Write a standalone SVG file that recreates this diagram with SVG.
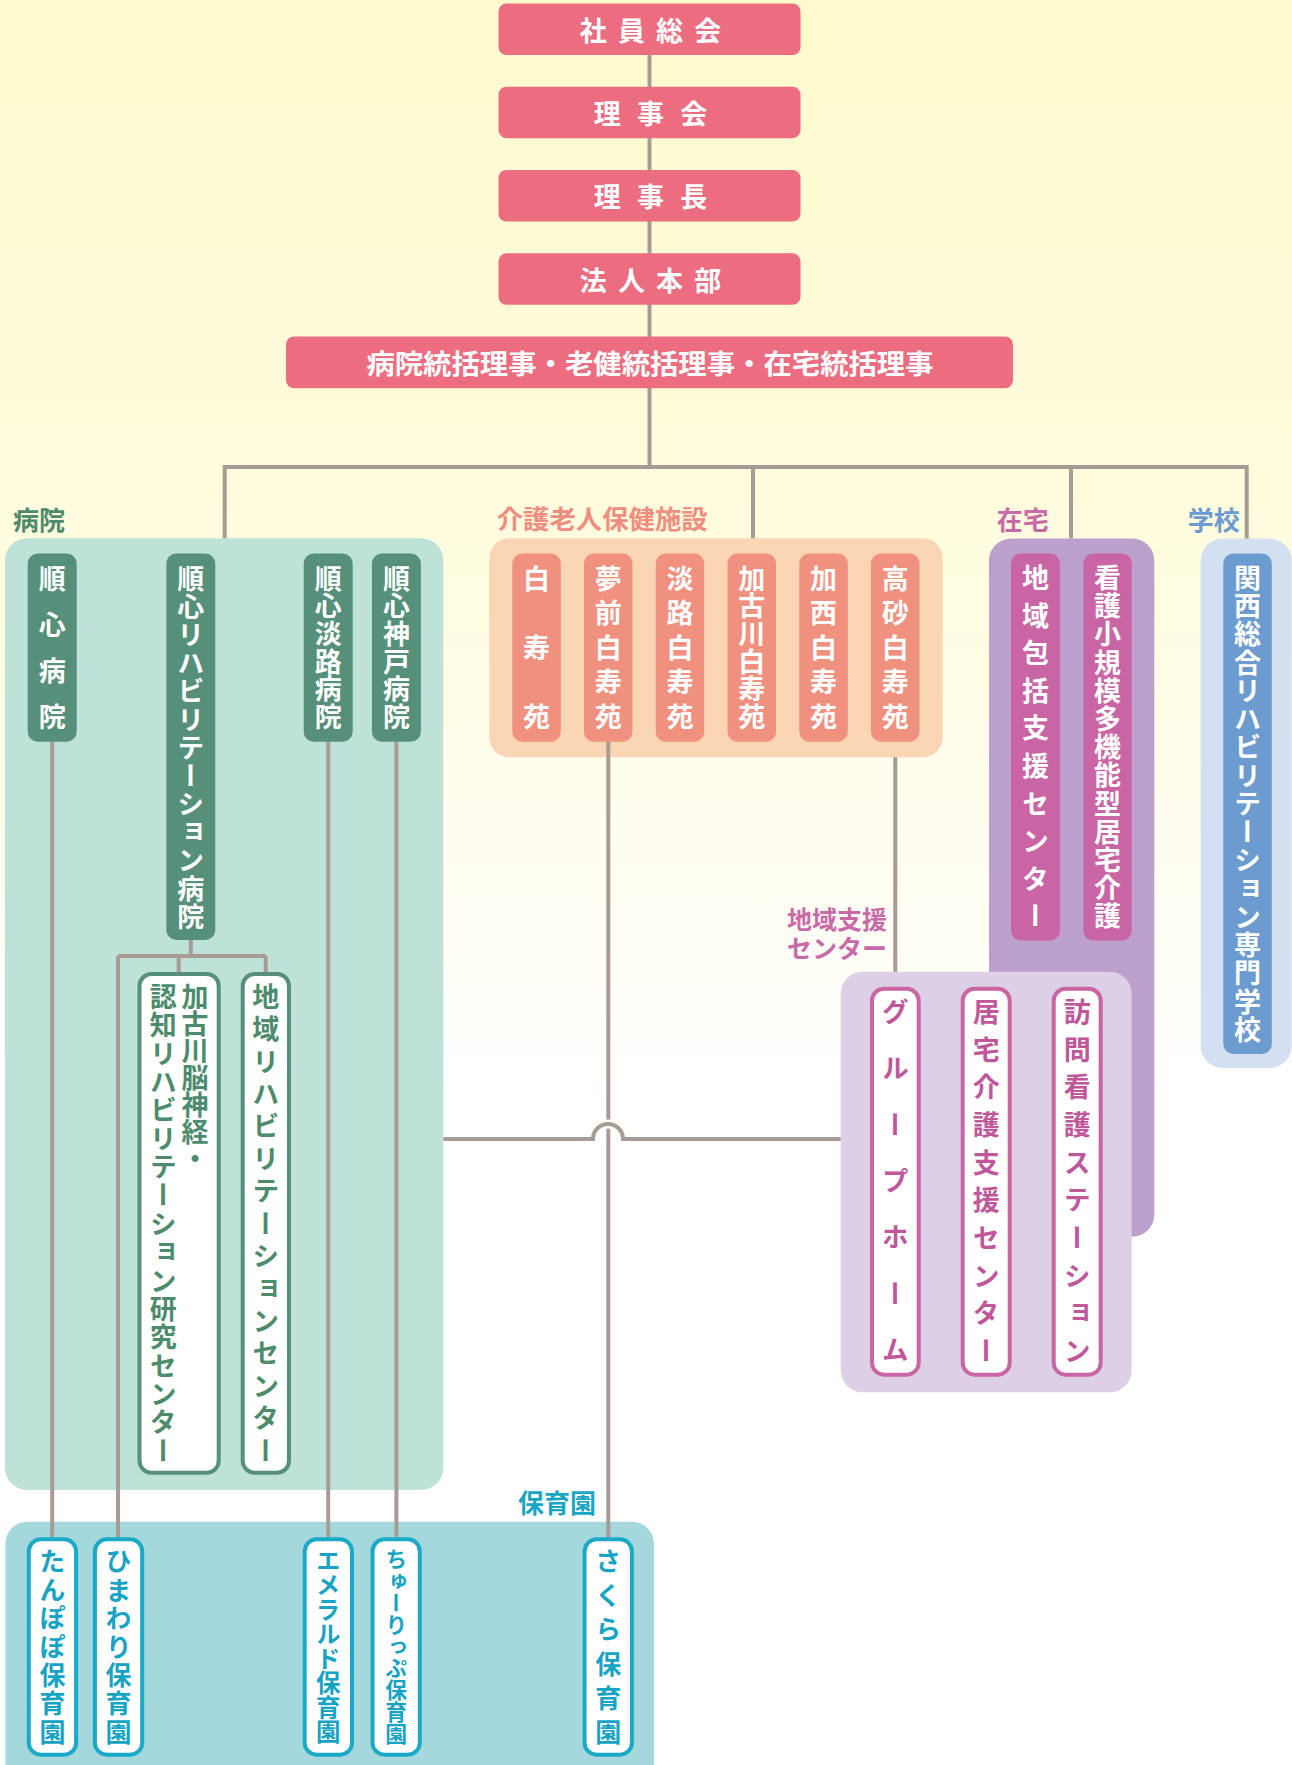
<svg xmlns="http://www.w3.org/2000/svg" width="1292" height="1765" viewBox="0 0 1292 1765">
<defs>
<linearGradient id="bg" x1="0" y1="0" x2="0" y2="1">
<stop offset="0" stop-color="#fffacd"/>
<stop offset="0.35" stop-color="#fffce2"/>
<stop offset="0.62" stop-color="#ffffff"/>
<stop offset="1" stop-color="#ffffff"/>
</linearGradient>
<style>
.f{font-family:"Noto Sans CJK JP","Noto Sans CJK SC",sans-serif;font-weight:700}
.v{writing-mode:vertical-rl}
.pk{fill:#ec6c80}
.tw{fill:#ffffff;font-size:27px}
.top{fill:#ffffff;font-size:27px}
.ln{stroke:#a89b93;stroke-width:4;fill:none}
.lab{font-size:26px}
.hosp{fill:#56907a}
.rok{fill:#f0907f}
.zai{fill:#c965a4}
.gak{fill:#6c9bd0}
.og{fill:#ffffff;stroke:#56907a;stroke-width:4}
.om{fill:#ffffff;stroke:#c965a4;stroke-width:4}
.ot{fill:#ffffff;stroke:#1aaac8;stroke-width:4}
.tg{fill:#4d8b6d;font-size:27px}
.tm{fill:#c0579b;font-size:27px}
.tt{fill:#17a3c3;font-size:26px}
</style>
</defs>
<rect x="0" y="0" width="1292" height="1765" fill="url(#bg)"/>

<g id="panel-hospital">
<rect x="5" y="538.3" width="438.3" height="951.7" rx="22" fill="#bfe2d8"/>
<text class="f lab" x="13" y="518" dominant-baseline="central" fill="#4f8a6c">病院</text>
</g>
<g id="panel-roken">
<rect x="489.3" y="538.3" width="453.4" height="219" rx="20" fill="#f9d5b3"/>
<text class="f lab" x="496.7" y="517" dominant-baseline="central" fill="#ef8e80" textLength="211" lengthAdjust="spacingAndGlyphs">介護老人保健施設</text>
</g>
<g id="panel-zaitaku">
<rect x="989" y="538.5" width="165.3" height="698.2" rx="22" fill="#bba0cb"/>
<text class="f lab" x="996.7" y="518" dominant-baseline="central" fill="#c96aa8">在宅</text>
</g>
<g id="panel-gakko">
<rect x="1200.7" y="538.5" width="91" height="529.5" rx="22" fill="#d3e0f1"/>
<text class="f lab" x="1187.7" y="518" dominant-baseline="central" fill="#6b9bd1">学校</text>
</g>
<g id="panel-chiiki">
<rect x="840.7" y="971.7" width="291" height="420.6" rx="22" fill="#ddd0e6"/>
<text class="f" style="font-size:25px" fill="#c96aa8" text-anchor="end"><tspan x="887" y="929">地域支援</tspan><tspan x="887" y="958">センター</tspan></text>
</g>
<g id="panel-hoikuen">
<rect x="5.4" y="1521.7" width="648.6" height="270" rx="22" fill="#a5d8dd"/>
<text class="f lab" x="518" y="1501" dominant-baseline="central" fill="#19a5c3" textLength="78" lengthAdjust="spacingAndGlyphs">保育園</text>
</g>

<g id="connectors">
<path class="ln" d="M649.5,55 V467"/>
<path class="ln" d="M224.7,538.3 V467 H1246.7 V538.5"/>
<path class="ln" d="M753,467 V538.3"/>
<path class="ln" d="M1071,467 V538.5"/>
<path class="ln" d="M190.8,940 V956"/>
<path class="ln" d="M118,956 H265.7"/>
<path class="ln" d="M178.7,956 V972"/>
<path class="ln" d="M265.7,956 V972"/>
<path class="ln" d="M118,956 V1537.3"/>
<path class="ln" d="M52.2,741.7 V1537.3"/>
<path class="ln" d="M328.2,741.7 V1537.3"/>
<path class="ln" d="M396.4,741.7 V1537.3"/>
<path class="ln" d="M608.3,741.7 V1537.3"/>
<path class="ln" d="M895.3,757.3 V971.7"/>
<path d="M593,1139 A15,15 0 0 1 623,1139" fill="none" stroke="#fffef8" stroke-width="9"/>
<path class="ln" d="M443.3,1139 H593 A15,15 0 0 1 623,1139 H840.7"/>
</g>

<g id="n-shain">
<rect class="pk" x="498.5" y="3.5" width="302" height="51.5" rx="8"/>
<text class="f top" x="650.5" y="29.25" dominant-baseline="central" text-anchor="middle" textLength="141.6" lengthAdjust="spacing">社員総会</text>
</g>
<g id="n-rijikai">
<rect class="pk" x="498.5" y="86.7" width="302" height="51.5" rx="8"/>
<text class="f top" x="650.5" y="112.45" dominant-baseline="central" text-anchor="middle" textLength="113.3" lengthAdjust="spacing">理事会</text>
</g>
<g id="n-rijicho">
<rect class="pk" x="498.5" y="170" width="302" height="51.5" rx="8"/>
<text class="f top" x="650.5" y="195.75" dominant-baseline="central" text-anchor="middle" textLength="113.3" lengthAdjust="spacing">理事長</text>
</g>
<g id="n-honbu">
<rect class="pk" x="498.5" y="253.3" width="302" height="51.5" rx="8"/>
<text class="f top" x="650.5" y="279.05" dominant-baseline="central" text-anchor="middle" textLength="141.6" lengthAdjust="spacing">法人本部</text>
</g>
<g id="n-tokatsu">
<rect class="pk" x="286" y="336.5" width="727" height="51.8" rx="8"/>
<text class="f top" x="650" y="362.4" dominant-baseline="central" text-anchor="middle" textLength="567.2" lengthAdjust="spacingAndGlyphs">病院統括理事・老健統括理事・在宅統括理事</text>
</g>

<g id="n-junshin">
<rect class="hosp" x="27.7" y="553.5" width="49" height="188.2" rx="10"/>
<text class="f tw v" x="52.2" y="565" textLength="165" lengthAdjust="spacing">順心病院</text>
</g>
<g id="n-junshin-riha">
<rect class="hosp" x="166.3" y="553.5" width="49" height="386.5" rx="10"/>
<text class="f tw v" x="190.8" y="565" textLength="365" lengthAdjust="spacing">順心リハビリテーション病院</text>
</g>
<g id="n-awaji">
<rect class="hosp" x="303.7" y="553.5" width="49" height="188.2" rx="10"/>
<text class="f tw v" x="328.2" y="565" textLength="165" lengthAdjust="spacing">順心淡路病院</text>
</g>
<g id="n-kobe">
<rect class="hosp" x="371.9" y="553.5" width="49" height="188.2" rx="10"/>
<text class="f tw v" x="396.4" y="565" textLength="165" lengthAdjust="spacing">順心神戸病院</text>
</g>
<g id="n-kakogawa-nou">
<rect class="og" x="139.5" y="974" width="79.2" height="498.8" rx="12"/>
<text class="f tg v" x="195" y="983">加古川脳神経・</text>
<text class="f tg v" x="163.3" y="983" textLength="481" lengthAdjust="spacing">認知リハビリテーション研究センター</text>
</g>
<g id="n-chiiki-riha">
<rect class="og" x="242.7" y="974" width="46.3" height="498.8" rx="12"/>
<text class="f tg v" x="265.85" y="983" textLength="481" lengthAdjust="spacing">地域リハビリテーションセンター</text>
</g>

<g id="n-hakujuen">
<rect class="rok" x="512.3" y="553.5" width="48.5" height="188.2" rx="10"/>
<text class="f tw v" x="536.5" y="565" textLength="165" lengthAdjust="spacing">白寿苑</text>
</g>
<g id="n-yumesaki">
<rect class="rok" x="584" y="553.5" width="48.5" height="188.2" rx="10"/>
<text class="f tw v" x="608.3" y="565" textLength="165" lengthAdjust="spacing">夢前白寿苑</text>
</g>
<g id="n-awaji-haku">
<rect class="rok" x="655.7" y="553.5" width="48.5" height="188.2" rx="10"/>
<text class="f tw v" x="680" y="565" textLength="165" lengthAdjust="spacing">淡路白寿苑</text>
</g>
<g id="n-kakogawa-haku">
<rect class="rok" x="727.5" y="553.5" width="48.5" height="188.2" rx="10"/>
<text class="f tw v" x="751.8" y="565" textLength="165" lengthAdjust="spacing">加古川白寿苑</text>
</g>
<g id="n-kasai-haku">
<rect class="rok" x="799.3" y="553.5" width="48.5" height="188.2" rx="10"/>
<text class="f tw v" x="823.5" y="565" textLength="165" lengthAdjust="spacing">加西白寿苑</text>
</g>
<g id="n-takasago-haku">
<rect class="rok" x="871" y="553.5" width="48.5" height="188.2" rx="10"/>
<text class="f tw v" x="895.3" y="565" textLength="165" lengthAdjust="spacing">高砂白寿苑</text>
</g>

<g id="n-houkatsu">
<rect class="zai" x="1011" y="553.5" width="49" height="386.9" rx="10"/>
<text class="f tw v" x="1035.5" y="564.2" textLength="365.5" lengthAdjust="spacing">地域包括支援センター</text>
</g>
<g id="n-kantaki">
<rect class="zai" x="1083.3" y="553.5" width="48.5" height="386.9" rx="10"/>
<text class="f tw v" x="1107.5" y="564.2" textLength="365.5" lengthAdjust="spacing">看護小規模多機能型居宅介護</text>
</g>
<g id="n-gakko">
<rect class="gak" x="1223.3" y="553.5" width="48.5" height="500.5" rx="10"/>
<text class="f tw v" x="1247.5" y="564" textLength="479" lengthAdjust="spacing">関西総合リハビリテーション専門学校</text>
</g>

<g id="n-grouphome">
<rect class="om" x="872" y="988.7" width="46.7" height="386" rx="12"/>
<text class="f tm v" x="895.3" y="998.3" textLength="365" lengthAdjust="spacing">グループホーム</text>
</g>
<g id="n-kyotaku">
<rect class="om" x="962.7" y="988.7" width="47" height="386" rx="12"/>
<text class="f tm v" x="986.2" y="998.3" textLength="366" lengthAdjust="spacing">居宅介護支援センター</text>
</g>
<g id="n-houmon">
<rect class="om" x="1053.7" y="988.7" width="47" height="386" rx="12"/>
<text class="f tm v" x="1077.2" y="998.3" textLength="366" lengthAdjust="spacing">訪問看護ステーション</text>
</g>

<g id="n-tanpopo">
<rect class="ot" x="28.8" y="1539.3" width="47.3" height="215.4" rx="12"/>
<text class="f tt v" x="52.4" y="1548.3" textLength="196.7" lengthAdjust="spacing">たんぽぽ保育園</text>
</g>
<g id="n-himawari">
<rect class="ot" x="94.9" y="1539.3" width="47.3" height="215.4" rx="12"/>
<text class="f tt v" x="118.5" y="1548.3" textLength="196.7" lengthAdjust="spacing">ひまわり保育園</text>
</g>
<g id="n-emerald">
<rect class="ot" x="304.7" y="1539.3" width="47.3" height="215.4" rx="12"/>
<text class="f tt v" x="328.3" y="1548.3" style="font-size:24.5px">エメラルド保育園</text>
</g>
<g id="n-tulip">
<rect class="ot" x="372.5" y="1539.3" width="47.3" height="215.4" rx="12"/>
<text class="f tt v" x="396.2" y="1548.3" style="font-size:21.8px">ちゅーりっぷ保育園</text>
</g>
<g id="n-sakura">
<rect class="ot" x="584.6" y="1539.3" width="47.3" height="215.4" rx="12"/>
<text class="f tt v" x="608.3" y="1548.3" textLength="196.7" lengthAdjust="spacing">さくら保育園</text>
</g>
</svg>
